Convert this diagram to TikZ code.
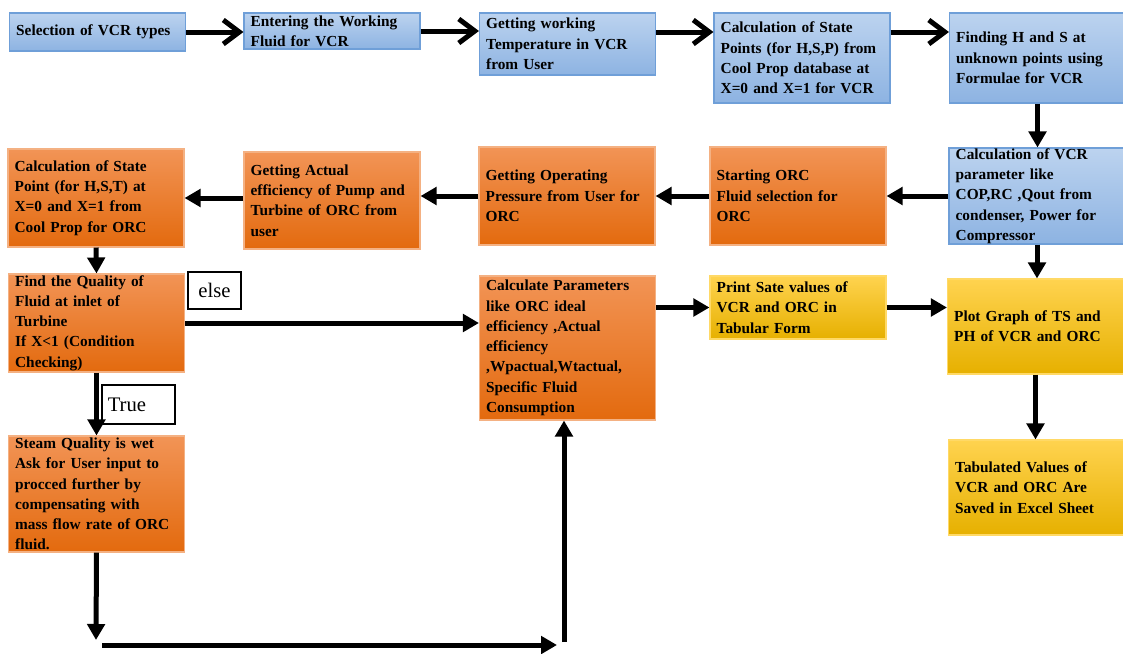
\documentclass[tikz,border=0pt]{standalone}
\usepackage{fontspec}
\setmainfont{Liberation Serif}
\usepackage{xcolor}
\usepackage{tikz}
\usetikzlibrary{arrows.meta}

\definecolor{vcrtop}{HTML}{BCD3EF}
\definecolor{vcrbot}{HTML}{8DB3E2}
\definecolor{vcrline}{HTML}{6F9FD8}
\definecolor{orctop}{HTML}{F29456}
\definecolor{orcbot}{HTML}{E36A0E}
\definecolor{orcline}{HTML}{F4B183}
\definecolor{outtop}{HTML}{FFD34F}
\definecolor{outbot}{HTML}{E6B000}
\definecolor{outline}{HTML}{FFD966}

\tikzset{
    box/.style={rectangle, draw, line width=0.8pt, minimum width=132pt, text width=122pt, align=left, inner sep=0pt, font=\fontsize{11.5}{15.2}\selectfont\bfseries},
    vcrbox/.style={box, draw=vcrline, top color=vcrtop, bottom color=vcrbot},
    orcbox/.style={box, draw=orcline, top color=orctop, bottom color=orcbot},
    outbox/.style={box, draw=outline, top color=outtop, bottom color=outbot},
    tag/.style={rectangle, draw, line width=0.8pt, inner sep=0pt, font=\fontsize{15.5}{18}\selectfont},
    flow/.style={line width=3.75pt, -{Triangle[length=12pt,width=13pt]}},
    topflow/.style={line width=3.75pt, -{Straight Barb[length=12pt,width=18pt]}}
}

\begin{document}
\begin{tikzpicture}[x=0.75pt, y=-0.75pt]
    \useasboundingbox (0,0) rectangle (1123,653);

    \node[vcrbox, minimum height=28.5pt] (sel) at (97.5,32) {Selection of VCR types};
    \node[vcrbox, minimum height=27pt] (fluid) at (332,31) {Entering the Working\\Fluid for VCR};
    \node[vcrbox, minimum height=46.5pt] (temp) at (567.5,44) {Getting working\\Temperature in VCR\\from User};
    \node[vcrbox, minimum height=67.5pt] (vcrstate) at (802,58) {Calculation of State\\Points (for H,S,P) from\\Cool Prop database at\\X=0 and X=1 for VCR};
    \node[vcrbox, minimum height=67.5pt] (hsfind) at (1037.5,58) {Finding H and S at\\unknown points using\\Formulae for VCR};

    \node[vcrbox, minimum height=72pt] (vcrparam) at (1037,196) {Calculation of VCR\\parameter like\\COP,RC ,Qout from\\condenser, Power for\\Compressor};
    \node[orcbox, minimum height=73.5pt] (orcstart) at (798,196) {Starting ORC\\Fluid selection for\\ORC};
    \node[orcbox, minimum height=73.5pt] (orcpres) at (567,196) {Getting Operating\\Pressure from User for\\ORC};
    \node[orcbox, minimum height=72.75pt] (orceff) at (332,200.5) {Getting Actual\\efficiency of Pump and\\Turbine of ORC from\\user};
    \node[orcbox, minimum height=73.5pt] (orcstate) at (96,198) {Calculation of State\\Point (for H,S,T) at\\X=0 and X=1 from\\Cool Prop for ORC};

    \node[orcbox, minimum height=73.5pt] (quality) at (96.5,323) {Find the Quality of\\Fluid at inlet of\\Turbine\\If X<1 (Condition\\Checking)};
    \node[orcbox, minimum height=108pt] (orcparam) at (567.5,348) {Calculate Parameters\\like ORC ideal\\efficiency ,Actual\\efficiency\\,Wpactual,Wtactual,\\Specific Fluid\\Consumption};
    \node[outbox, minimum height=47.25pt] (printtab) at (798,307.5) {Print Sate values of\\VCR and ORC in\\Tabular Form};
    \node[outbox, minimum height=71.25pt] (plotgraph) at (1035.5,326.5) {Plot Graph of TS and\\PH of VCR and ORC};

    \node[orcbox, minimum height=87pt] (wetsteam) at (96.5,494) {Steam Quality is wet\\Ask for User input to\\procced further by\\compensating with\\mass flow rate of ORC\\fluid.};
    \node[outbox, minimum height=71.25pt] (excel) at (1036.5,487.5) {Tabulated Values of\\VCR and ORC Are\\Saved in Excel Sheet};

    \node[tag, minimum width=39.75pt, minimum height=27.75pt] (elsetag) at (214.5,290.5) {else};
    \node[tag, minimum width=54.75pt, minimum height=29.25pt, text width=46pt, align=left] (truetag) at (138.5,404.5) {True};

    \coordinate (bendA) at (96,640);
    \coordinate (bendB) at (102,645);
    \coordinate (bendC) at (557,645);
    \coordinate (bendD) at (564,642);

    \draw[topflow] (sel.east) -- (sel.east -| fluid.west);
    \draw[topflow] (fluid.east) -- (fluid.east -| temp.west);
    \draw[topflow] ([yshift=9pt]temp.east) -- ([yshift=9pt]temp.east -| vcrstate.west);
    \draw[topflow] ([yshift=19.5pt]vcrstate.east) -- ([yshift=19.5pt]vcrstate.east -| hsfind.west);
    \draw[flow] (hsfind.south) -- (hsfind.south |- vcrparam.north);
    \draw[flow] (vcrparam.west) -- (orcstart.east);
    \draw[flow] (orcstart.west) -- (orcpres.east);
    \draw[flow] (orcpres.west) -- (orcpres.west -| orceff.east);
    \draw[flow] (orcstate.east -| orceff.west) -- (orcstate.east);
    \draw[flow] (orcstate.south) -- (quality.north);
    \draw[flow] (quality.east) -- (quality.east -| orcparam.west);
    \draw[flow] (quality.south) -- (wetsteam.north);
    \draw[flow] (printtab.west -| orcparam.east) -- (printtab.west);
    \draw[flow] (printtab.east) -- (printtab.east -| plotgraph.west);
    \draw[flow] (vcrparam.south) -- (vcrparam.south |- plotgraph.north);
    \draw[flow] (plotgraph.south) -- (plotgraph.south |- excel.north);
    \draw[flow] (wetsteam.south) -- (bendA);
    \draw[flow] (bendB) -- (bendC);
    \draw[flow] (bendD) -- (bendD |- orcparam.south);
\end{tikzpicture}
\end{document}
